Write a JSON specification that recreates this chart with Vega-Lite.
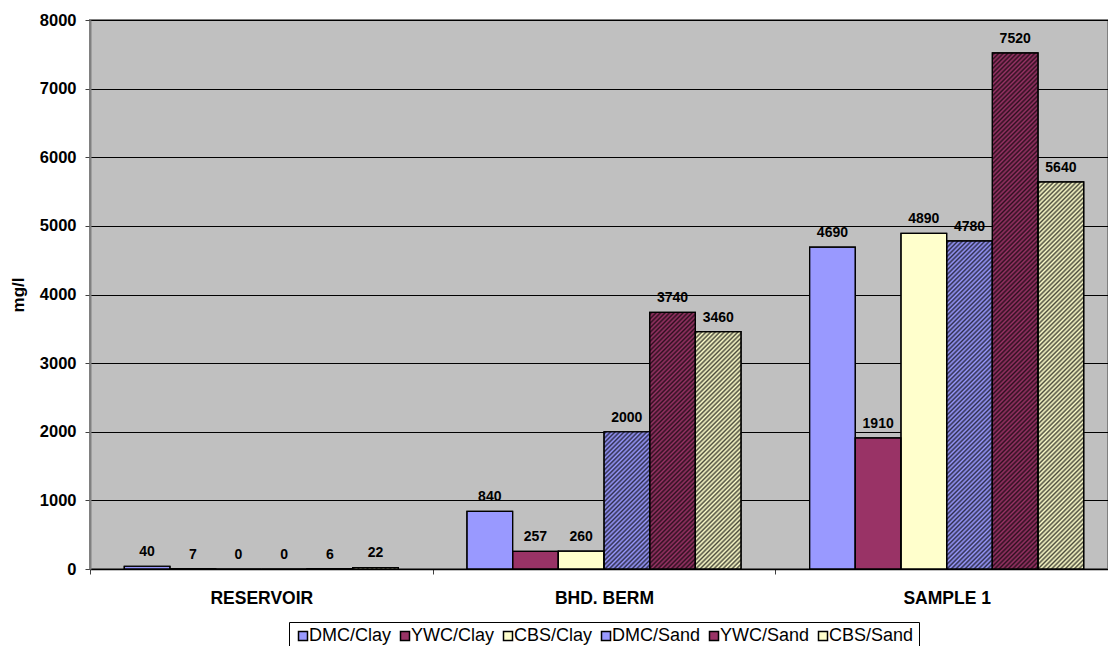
{
  "$schema": "https://vega.github.io/schema/vega-lite/v6.json",
  "autosize": {"type": "none"},
  "padding": {"left": 90, "top": 20, "right": 0, "bottom": 77},
  "width": 1018,
  "height": 549,
  "background": "#ffffff",
  "config": {
    "view": {"fill": "#c0c0c0", "stroke": "#808080", "strokeWidth": 2},
    "axis": {"labelFont": "Liberation Sans", "titleFont": "Liberation Sans", "labelColor": "#000", "titleColor": "#000"},
    "legend": {"labelFont": "Liberation Sans"}
  },
  "data": {
    "values": [
      {"site": "RESERVOIR", "series": "DMC/Clay", "value": 40},
      {"site": "RESERVOIR", "series": "YWC/Clay", "value": 7},
      {"site": "RESERVOIR", "series": "CBS/Clay", "value": 0},
      {"site": "RESERVOIR", "series": "DMC/Sand", "value": 0},
      {"site": "RESERVOIR", "series": "YWC/Sand", "value": 6},
      {"site": "RESERVOIR", "series": "CBS/Sand", "value": 22},
      {"site": "BHD. BERM", "series": "DMC/Clay", "value": 840},
      {"site": "BHD. BERM", "series": "YWC/Clay", "value": 257},
      {"site": "BHD. BERM", "series": "CBS/Clay", "value": 260},
      {"site": "BHD. BERM", "series": "DMC/Sand", "value": 2000},
      {"site": "BHD. BERM", "series": "YWC/Sand", "value": 3740},
      {"site": "BHD. BERM", "series": "CBS/Sand", "value": 3460},
      {"site": "SAMPLE 1", "series": "DMC/Clay", "value": 4690},
      {"site": "SAMPLE 1", "series": "YWC/Clay", "value": 1910},
      {"site": "SAMPLE 1", "series": "CBS/Clay", "value": 4890},
      {"site": "SAMPLE 1", "series": "DMC/Sand", "value": 4780},
      {"site": "SAMPLE 1", "series": "YWC/Sand", "value": 7520},
      {"site": "SAMPLE 1", "series": "CBS/Sand", "value": 5640}
    ]
  },
  "encoding": {
    "x": {
      "field": "site", "type": "nominal",
      "scale": {"domain": ["RESERVOIR", "BHD. BERM", "SAMPLE 1"], "paddingInner": 0, "paddingOuter": 0, "range": [0, 1028]},
      "axis": {"title": null, "tickBand": "extent", "tickSize": 5, "tickColor": "#404040", "domainColor": "#000", "domainWidth": 1.5, "labelFontSize": 17.5, "labelFontWeight": "bold", "labelPadding": 15, "labelAngle": 0}
    },
    "xOffset": {
      "field": "series", "type": "nominal",
      "scale": {"domain": ["DMC/Clay", "YWC/Clay", "CBS/Clay", "DMC/Sand", "YWC/Sand", "CBS/Sand"], "paddingInner": 0, "paddingOuter": 0.75}
    },
    "y": {
      "field": "value", "type": "quantitative",
      "scale": {"domain": [0, 8000], "nice": false},
      "axis": {"title": "mg/l", "format": "d", "values": [0, 1000, 2000, 3000, 4000, 5000, 6000, 7000, 8000], "grid": true, "gridColor": "#000", "gridWidth": 1, "domainColor": "#808080", "domainWidth": 2, "tickColor": "#404040", "tickSize": 5, "labelFontSize": 16.5, "labelFontWeight": "bold", "labelPadding": 9, "titleFontSize": 17, "titleFontWeight": "bold", "titlePadding": 12}
    }
  },
  "layer": [
    {
      "mark": {"type": "bar", "stroke": "#000", "strokeWidth": 1.2},
      "encoding": {
        "color": {
          "field": "series", "type": "nominal",
          "scale": {"domain": ["DMC/Clay", "YWC/Clay", "CBS/Clay", "DMC/Sand", "YWC/Sand", "CBS/Sand"], "range": ["#9999ff", "#993366", "#ffffcc", "#9999ff", "#993366", "#ffffcc"]},
          "legend": {
            "orient": "none", "legendX": 199, "legendY": 602, "direction": "horizontal", "title": null,
            "strokeColor": "#000", "fillColor": "#fff", "padding": 5,
            "symbolType": "square", "symbolSize": 81,
            "labelFontSize": 18, "labelColor": "#000", "columnPadding": 4, "labelOffset": -3,
            "encode": {"symbols": {
              "stroke": {"value": "#000"},
              "strokeWidth": {"value": 1},
              "fill": {"value": {"expr": "indexof(datum.value,'Sand')>=0 ? {gradient:'linear',x1:0,y1:0,x2:1,y2:1,stops:[{offset:0,color:scale('color',datum.value)},{offset:0.125,color:'#222'},{offset:0.25,color:scale('color',datum.value)},{offset:0.375,color:'#222'},{offset:0.5,color:scale('color',datum.value)},{offset:0.625,color:'#222'},{offset:0.75,color:scale('color',datum.value)},{offset:0.875,color:'#222'},{offset:1,color:scale('color',datum.value)}]} : scale('color',datum.value)"}}
            }}
          }
        }
      }
    },
    {
      "transform": [{"filter": "indexof(datum.series, 'Sand') >= 0"}],
      "mark": {
        "type": "bar", "clip": true, "y2Offset": 520,
        "fill": {"gradient": "linear", "x1": 0, "y1": 0, "x2": 0.0949, "y2": 1.0796, "stops": [
          {"offset":0,"color":"rgba(0,0,0,0)"},{"offset":0.004,"color":"rgba(0,0,0,0.7)"},{"offset":0.008,"color":"rgba(0,0,0,0)"},{"offset":0.012,"color":"rgba(0,0,0,0.7)"},{"offset":0.016,"color":"rgba(0,0,0,0)"},{"offset":0.02,"color":"rgba(0,0,0,0.7)"},{"offset":0.024,"color":"rgba(0,0,0,0)"},{"offset":0.028,"color":"rgba(0,0,0,0.7)"},{"offset":0.032,"color":"rgba(0,0,0,0)"},{"offset":0.036,"color":"rgba(0,0,0,0.7)"},
          {"offset":0.04,"color":"rgba(0,0,0,0)"},{"offset":0.044,"color":"rgba(0,0,0,0.7)"},{"offset":0.048,"color":"rgba(0,0,0,0)"},{"offset":0.052,"color":"rgba(0,0,0,0.7)"},{"offset":0.056,"color":"rgba(0,0,0,0)"},{"offset":0.06,"color":"rgba(0,0,0,0.7)"},{"offset":0.064,"color":"rgba(0,0,0,0)"},{"offset":0.068,"color":"rgba(0,0,0,0.7)"},{"offset":0.072,"color":"rgba(0,0,0,0)"},{"offset":0.076,"color":"rgba(0,0,0,0.7)"},
          {"offset":0.08,"color":"rgba(0,0,0,0)"},{"offset":0.084,"color":"rgba(0,0,0,0.7)"},{"offset":0.088,"color":"rgba(0,0,0,0)"},{"offset":0.092,"color":"rgba(0,0,0,0.7)"},{"offset":0.096,"color":"rgba(0,0,0,0)"},{"offset":0.1,"color":"rgba(0,0,0,0.7)"},{"offset":0.104,"color":"rgba(0,0,0,0)"},{"offset":0.108,"color":"rgba(0,0,0,0.7)"},{"offset":0.112,"color":"rgba(0,0,0,0)"},{"offset":0.116,"color":"rgba(0,0,0,0.7)"},
          {"offset":0.12,"color":"rgba(0,0,0,0)"},{"offset":0.124,"color":"rgba(0,0,0,0.7)"},{"offset":0.128,"color":"rgba(0,0,0,0)"},{"offset":0.132,"color":"rgba(0,0,0,0.7)"},{"offset":0.136,"color":"rgba(0,0,0,0)"},{"offset":0.14,"color":"rgba(0,0,0,0.7)"},{"offset":0.144,"color":"rgba(0,0,0,0)"},{"offset":0.148,"color":"rgba(0,0,0,0.7)"},{"offset":0.152,"color":"rgba(0,0,0,0)"},{"offset":0.156,"color":"rgba(0,0,0,0.7)"},
          {"offset":0.16,"color":"rgba(0,0,0,0)"},{"offset":0.164,"color":"rgba(0,0,0,0.7)"},{"offset":0.168,"color":"rgba(0,0,0,0)"},{"offset":0.172,"color":"rgba(0,0,0,0.7)"},{"offset":0.176,"color":"rgba(0,0,0,0)"},{"offset":0.18,"color":"rgba(0,0,0,0.7)"},{"offset":0.184,"color":"rgba(0,0,0,0)"},{"offset":0.188,"color":"rgba(0,0,0,0.7)"},{"offset":0.192,"color":"rgba(0,0,0,0)"},{"offset":0.196,"color":"rgba(0,0,0,0.7)"},
          {"offset":0.2,"color":"rgba(0,0,0,0)"},{"offset":0.204,"color":"rgba(0,0,0,0.7)"},{"offset":0.208,"color":"rgba(0,0,0,0)"},{"offset":0.212,"color":"rgba(0,0,0,0.7)"},{"offset":0.216,"color":"rgba(0,0,0,0)"},{"offset":0.22,"color":"rgba(0,0,0,0.7)"},{"offset":0.224,"color":"rgba(0,0,0,0)"},{"offset":0.228,"color":"rgba(0,0,0,0.7)"},{"offset":0.232,"color":"rgba(0,0,0,0)"},{"offset":0.236,"color":"rgba(0,0,0,0.7)"},
          {"offset":0.24,"color":"rgba(0,0,0,0)"},{"offset":0.244,"color":"rgba(0,0,0,0.7)"},{"offset":0.248,"color":"rgba(0,0,0,0)"},{"offset":0.252,"color":"rgba(0,0,0,0.7)"},{"offset":0.256,"color":"rgba(0,0,0,0)"},{"offset":0.26,"color":"rgba(0,0,0,0.7)"},{"offset":0.264,"color":"rgba(0,0,0,0)"},{"offset":0.268,"color":"rgba(0,0,0,0.7)"},{"offset":0.272,"color":"rgba(0,0,0,0)"},{"offset":0.276,"color":"rgba(0,0,0,0.7)"},
          {"offset":0.28,"color":"rgba(0,0,0,0)"},{"offset":0.284,"color":"rgba(0,0,0,0.7)"},{"offset":0.288,"color":"rgba(0,0,0,0)"},{"offset":0.292,"color":"rgba(0,0,0,0.7)"},{"offset":0.296,"color":"rgba(0,0,0,0)"},{"offset":0.3,"color":"rgba(0,0,0,0.7)"},{"offset":0.304,"color":"rgba(0,0,0,0)"},{"offset":0.308,"color":"rgba(0,0,0,0.7)"},{"offset":0.312,"color":"rgba(0,0,0,0)"},{"offset":0.316,"color":"rgba(0,0,0,0.7)"},
          {"offset":0.32,"color":"rgba(0,0,0,0)"},{"offset":0.324,"color":"rgba(0,0,0,0.7)"},{"offset":0.328,"color":"rgba(0,0,0,0)"},{"offset":0.332,"color":"rgba(0,0,0,0.7)"},{"offset":0.336,"color":"rgba(0,0,0,0)"},{"offset":0.34,"color":"rgba(0,0,0,0.7)"},{"offset":0.344,"color":"rgba(0,0,0,0)"},{"offset":0.348,"color":"rgba(0,0,0,0.7)"},{"offset":0.352,"color":"rgba(0,0,0,0)"},{"offset":0.356,"color":"rgba(0,0,0,0.7)"},
          {"offset":0.36,"color":"rgba(0,0,0,0)"},{"offset":0.364,"color":"rgba(0,0,0,0.7)"},{"offset":0.368,"color":"rgba(0,0,0,0)"},{"offset":0.372,"color":"rgba(0,0,0,0.7)"},{"offset":0.376,"color":"rgba(0,0,0,0)"},{"offset":0.38,"color":"rgba(0,0,0,0.7)"},{"offset":0.384,"color":"rgba(0,0,0,0)"},{"offset":0.388,"color":"rgba(0,0,0,0.7)"},{"offset":0.392,"color":"rgba(0,0,0,0)"},{"offset":0.396,"color":"rgba(0,0,0,0.7)"},
          {"offset":0.4,"color":"rgba(0,0,0,0)"},{"offset":0.404,"color":"rgba(0,0,0,0.7)"},{"offset":0.408,"color":"rgba(0,0,0,0)"},{"offset":0.412,"color":"rgba(0,0,0,0.7)"},{"offset":0.416,"color":"rgba(0,0,0,0)"},{"offset":0.42,"color":"rgba(0,0,0,0.7)"},{"offset":0.424,"color":"rgba(0,0,0,0)"},{"offset":0.428,"color":"rgba(0,0,0,0.7)"},{"offset":0.432,"color":"rgba(0,0,0,0)"},{"offset":0.436,"color":"rgba(0,0,0,0.7)"},
          {"offset":0.44,"color":"rgba(0,0,0,0)"},{"offset":0.444,"color":"rgba(0,0,0,0.7)"},{"offset":0.448,"color":"rgba(0,0,0,0)"},{"offset":0.452,"color":"rgba(0,0,0,0.7)"},{"offset":0.456,"color":"rgba(0,0,0,0)"},{"offset":0.46,"color":"rgba(0,0,0,0.7)"},{"offset":0.464,"color":"rgba(0,0,0,0)"},{"offset":0.468,"color":"rgba(0,0,0,0.7)"},{"offset":0.472,"color":"rgba(0,0,0,0)"},{"offset":0.476,"color":"rgba(0,0,0,0.7)"},
          {"offset":0.48,"color":"rgba(0,0,0,0)"},{"offset":0.484,"color":"rgba(0,0,0,0.7)"},{"offset":0.488,"color":"rgba(0,0,0,0)"},{"offset":0.492,"color":"rgba(0,0,0,0.7)"},{"offset":0.496,"color":"rgba(0,0,0,0)"},{"offset":0.5,"color":"rgba(0,0,0,0.7)"},{"offset":0.504,"color":"rgba(0,0,0,0)"},{"offset":0.508,"color":"rgba(0,0,0,0.7)"},{"offset":0.512,"color":"rgba(0,0,0,0)"},{"offset":0.516,"color":"rgba(0,0,0,0.7)"},
          {"offset":0.52,"color":"rgba(0,0,0,0)"},{"offset":0.524,"color":"rgba(0,0,0,0.7)"},{"offset":0.528,"color":"rgba(0,0,0,0)"},{"offset":0.532,"color":"rgba(0,0,0,0.7)"},{"offset":0.536,"color":"rgba(0,0,0,0)"},{"offset":0.54,"color":"rgba(0,0,0,0.7)"},{"offset":0.544,"color":"rgba(0,0,0,0)"},{"offset":0.548,"color":"rgba(0,0,0,0.7)"},{"offset":0.552,"color":"rgba(0,0,0,0)"},{"offset":0.556,"color":"rgba(0,0,0,0.7)"},
          {"offset":0.56,"color":"rgba(0,0,0,0)"},{"offset":0.564,"color":"rgba(0,0,0,0.7)"},{"offset":0.568,"color":"rgba(0,0,0,0)"},{"offset":0.572,"color":"rgba(0,0,0,0.7)"},{"offset":0.576,"color":"rgba(0,0,0,0)"},{"offset":0.58,"color":"rgba(0,0,0,0.7)"},{"offset":0.584,"color":"rgba(0,0,0,0)"},{"offset":0.588,"color":"rgba(0,0,0,0.7)"},{"offset":0.592,"color":"rgba(0,0,0,0)"},{"offset":0.596,"color":"rgba(0,0,0,0.7)"},
          {"offset":0.6,"color":"rgba(0,0,0,0)"},{"offset":0.604,"color":"rgba(0,0,0,0.7)"},{"offset":0.608,"color":"rgba(0,0,0,0)"},{"offset":0.612,"color":"rgba(0,0,0,0.7)"},{"offset":0.616,"color":"rgba(0,0,0,0)"},{"offset":0.62,"color":"rgba(0,0,0,0.7)"},{"offset":0.624,"color":"rgba(0,0,0,0)"},{"offset":0.628,"color":"rgba(0,0,0,0.7)"},{"offset":0.632,"color":"rgba(0,0,0,0)"},{"offset":0.636,"color":"rgba(0,0,0,0.7)"},
          {"offset":0.64,"color":"rgba(0,0,0,0)"},{"offset":0.644,"color":"rgba(0,0,0,0.7)"},{"offset":0.648,"color":"rgba(0,0,0,0)"},{"offset":0.652,"color":"rgba(0,0,0,0.7)"},{"offset":0.656,"color":"rgba(0,0,0,0)"},{"offset":0.66,"color":"rgba(0,0,0,0.7)"},{"offset":0.664,"color":"rgba(0,0,0,0)"},{"offset":0.668,"color":"rgba(0,0,0,0.7)"},{"offset":0.672,"color":"rgba(0,0,0,0)"},{"offset":0.676,"color":"rgba(0,0,0,0.7)"},
          {"offset":0.68,"color":"rgba(0,0,0,0)"},{"offset":0.684,"color":"rgba(0,0,0,0.7)"},{"offset":0.688,"color":"rgba(0,0,0,0)"},{"offset":0.692,"color":"rgba(0,0,0,0.7)"},{"offset":0.696,"color":"rgba(0,0,0,0)"},{"offset":0.7,"color":"rgba(0,0,0,0.7)"},{"offset":0.704,"color":"rgba(0,0,0,0)"},{"offset":0.708,"color":"rgba(0,0,0,0.7)"},{"offset":0.712,"color":"rgba(0,0,0,0)"},{"offset":0.716,"color":"rgba(0,0,0,0.7)"},
          {"offset":0.72,"color":"rgba(0,0,0,0)"},{"offset":0.724,"color":"rgba(0,0,0,0.7)"},{"offset":0.728,"color":"rgba(0,0,0,0)"},{"offset":0.732,"color":"rgba(0,0,0,0.7)"},{"offset":0.736,"color":"rgba(0,0,0,0)"},{"offset":0.74,"color":"rgba(0,0,0,0.7)"},{"offset":0.744,"color":"rgba(0,0,0,0)"},{"offset":0.748,"color":"rgba(0,0,0,0.7)"},{"offset":0.752,"color":"rgba(0,0,0,0)"},{"offset":0.756,"color":"rgba(0,0,0,0.7)"},
          {"offset":0.76,"color":"rgba(0,0,0,0)"},{"offset":0.764,"color":"rgba(0,0,0,0.7)"},{"offset":0.768,"color":"rgba(0,0,0,0)"},{"offset":0.772,"color":"rgba(0,0,0,0.7)"},{"offset":0.776,"color":"rgba(0,0,0,0)"},{"offset":0.78,"color":"rgba(0,0,0,0.7)"},{"offset":0.784,"color":"rgba(0,0,0,0)"},{"offset":0.788,"color":"rgba(0,0,0,0.7)"},{"offset":0.792,"color":"rgba(0,0,0,0)"},{"offset":0.796,"color":"rgba(0,0,0,0.7)"},
          {"offset":0.8,"color":"rgba(0,0,0,0)"},{"offset":0.804,"color":"rgba(0,0,0,0.7)"},{"offset":0.808,"color":"rgba(0,0,0,0)"},{"offset":0.812,"color":"rgba(0,0,0,0.7)"},{"offset":0.816,"color":"rgba(0,0,0,0)"},{"offset":0.82,"color":"rgba(0,0,0,0.7)"},{"offset":0.824,"color":"rgba(0,0,0,0)"},{"offset":0.828,"color":"rgba(0,0,0,0.7)"},{"offset":0.832,"color":"rgba(0,0,0,0)"},{"offset":0.836,"color":"rgba(0,0,0,0.7)"},
          {"offset":0.84,"color":"rgba(0,0,0,0)"},{"offset":0.844,"color":"rgba(0,0,0,0.7)"},{"offset":0.848,"color":"rgba(0,0,0,0)"},{"offset":0.852,"color":"rgba(0,0,0,0.7)"},{"offset":0.856,"color":"rgba(0,0,0,0)"},{"offset":0.86,"color":"rgba(0,0,0,0.7)"},{"offset":0.864,"color":"rgba(0,0,0,0)"},{"offset":0.868,"color":"rgba(0,0,0,0.7)"},{"offset":0.872,"color":"rgba(0,0,0,0)"},{"offset":0.876,"color":"rgba(0,0,0,0.7)"},
          {"offset":0.88,"color":"rgba(0,0,0,0)"},{"offset":0.884,"color":"rgba(0,0,0,0.7)"},{"offset":0.888,"color":"rgba(0,0,0,0)"},{"offset":0.892,"color":"rgba(0,0,0,0.7)"},{"offset":0.896,"color":"rgba(0,0,0,0)"},{"offset":0.9,"color":"rgba(0,0,0,0.7)"},{"offset":0.904,"color":"rgba(0,0,0,0)"},{"offset":0.908,"color":"rgba(0,0,0,0.7)"},{"offset":0.912,"color":"rgba(0,0,0,0)"},{"offset":0.916,"color":"rgba(0,0,0,0.7)"},
          {"offset":0.92,"color":"rgba(0,0,0,0)"},{"offset":0.924,"color":"rgba(0,0,0,0.7)"},{"offset":0.928,"color":"rgba(0,0,0,0)"},{"offset":0.932,"color":"rgba(0,0,0,0.7)"},{"offset":0.936,"color":"rgba(0,0,0,0)"},{"offset":0.94,"color":"rgba(0,0,0,0.7)"},{"offset":0.944,"color":"rgba(0,0,0,0)"},{"offset":0.948,"color":"rgba(0,0,0,0.7)"},{"offset":0.952,"color":"rgba(0,0,0,0)"},{"offset":0.956,"color":"rgba(0,0,0,0.7)"},
          {"offset":0.96,"color":"rgba(0,0,0,0)"},{"offset":0.964,"color":"rgba(0,0,0,0.7)"},{"offset":0.968,"color":"rgba(0,0,0,0)"},{"offset":0.972,"color":"rgba(0,0,0,0.7)"},{"offset":0.976,"color":"rgba(0,0,0,0)"},{"offset":0.98,"color":"rgba(0,0,0,0.7)"},{"offset":0.984,"color":"rgba(0,0,0,0)"},{"offset":0.988,"color":"rgba(0,0,0,0.7)"},{"offset":0.992,"color":"rgba(0,0,0,0)"},{"offset":0.996,"color":"rgba(0,0,0,0.7)"},
          {"offset":1,"color":"rgba(0,0,0,0)"}
        ]}
      },
      "encoding": {
        "y2": {"field": "value"}
      }
    },
    {
      "mark": {"type": "bar", "fill": "transparent", "stroke": "#000", "strokeWidth": 1.2}
    },
    {
      "mark": {"type": "text", "baseline": "alphabetic", "dy": -10, "font": "Liberation Sans", "fontSize": 14, "fontWeight": "bold", "color": "#000"},
      "encoding": {"text": {"field": "value", "type": "quantitative"}}
    }
  ]
}
